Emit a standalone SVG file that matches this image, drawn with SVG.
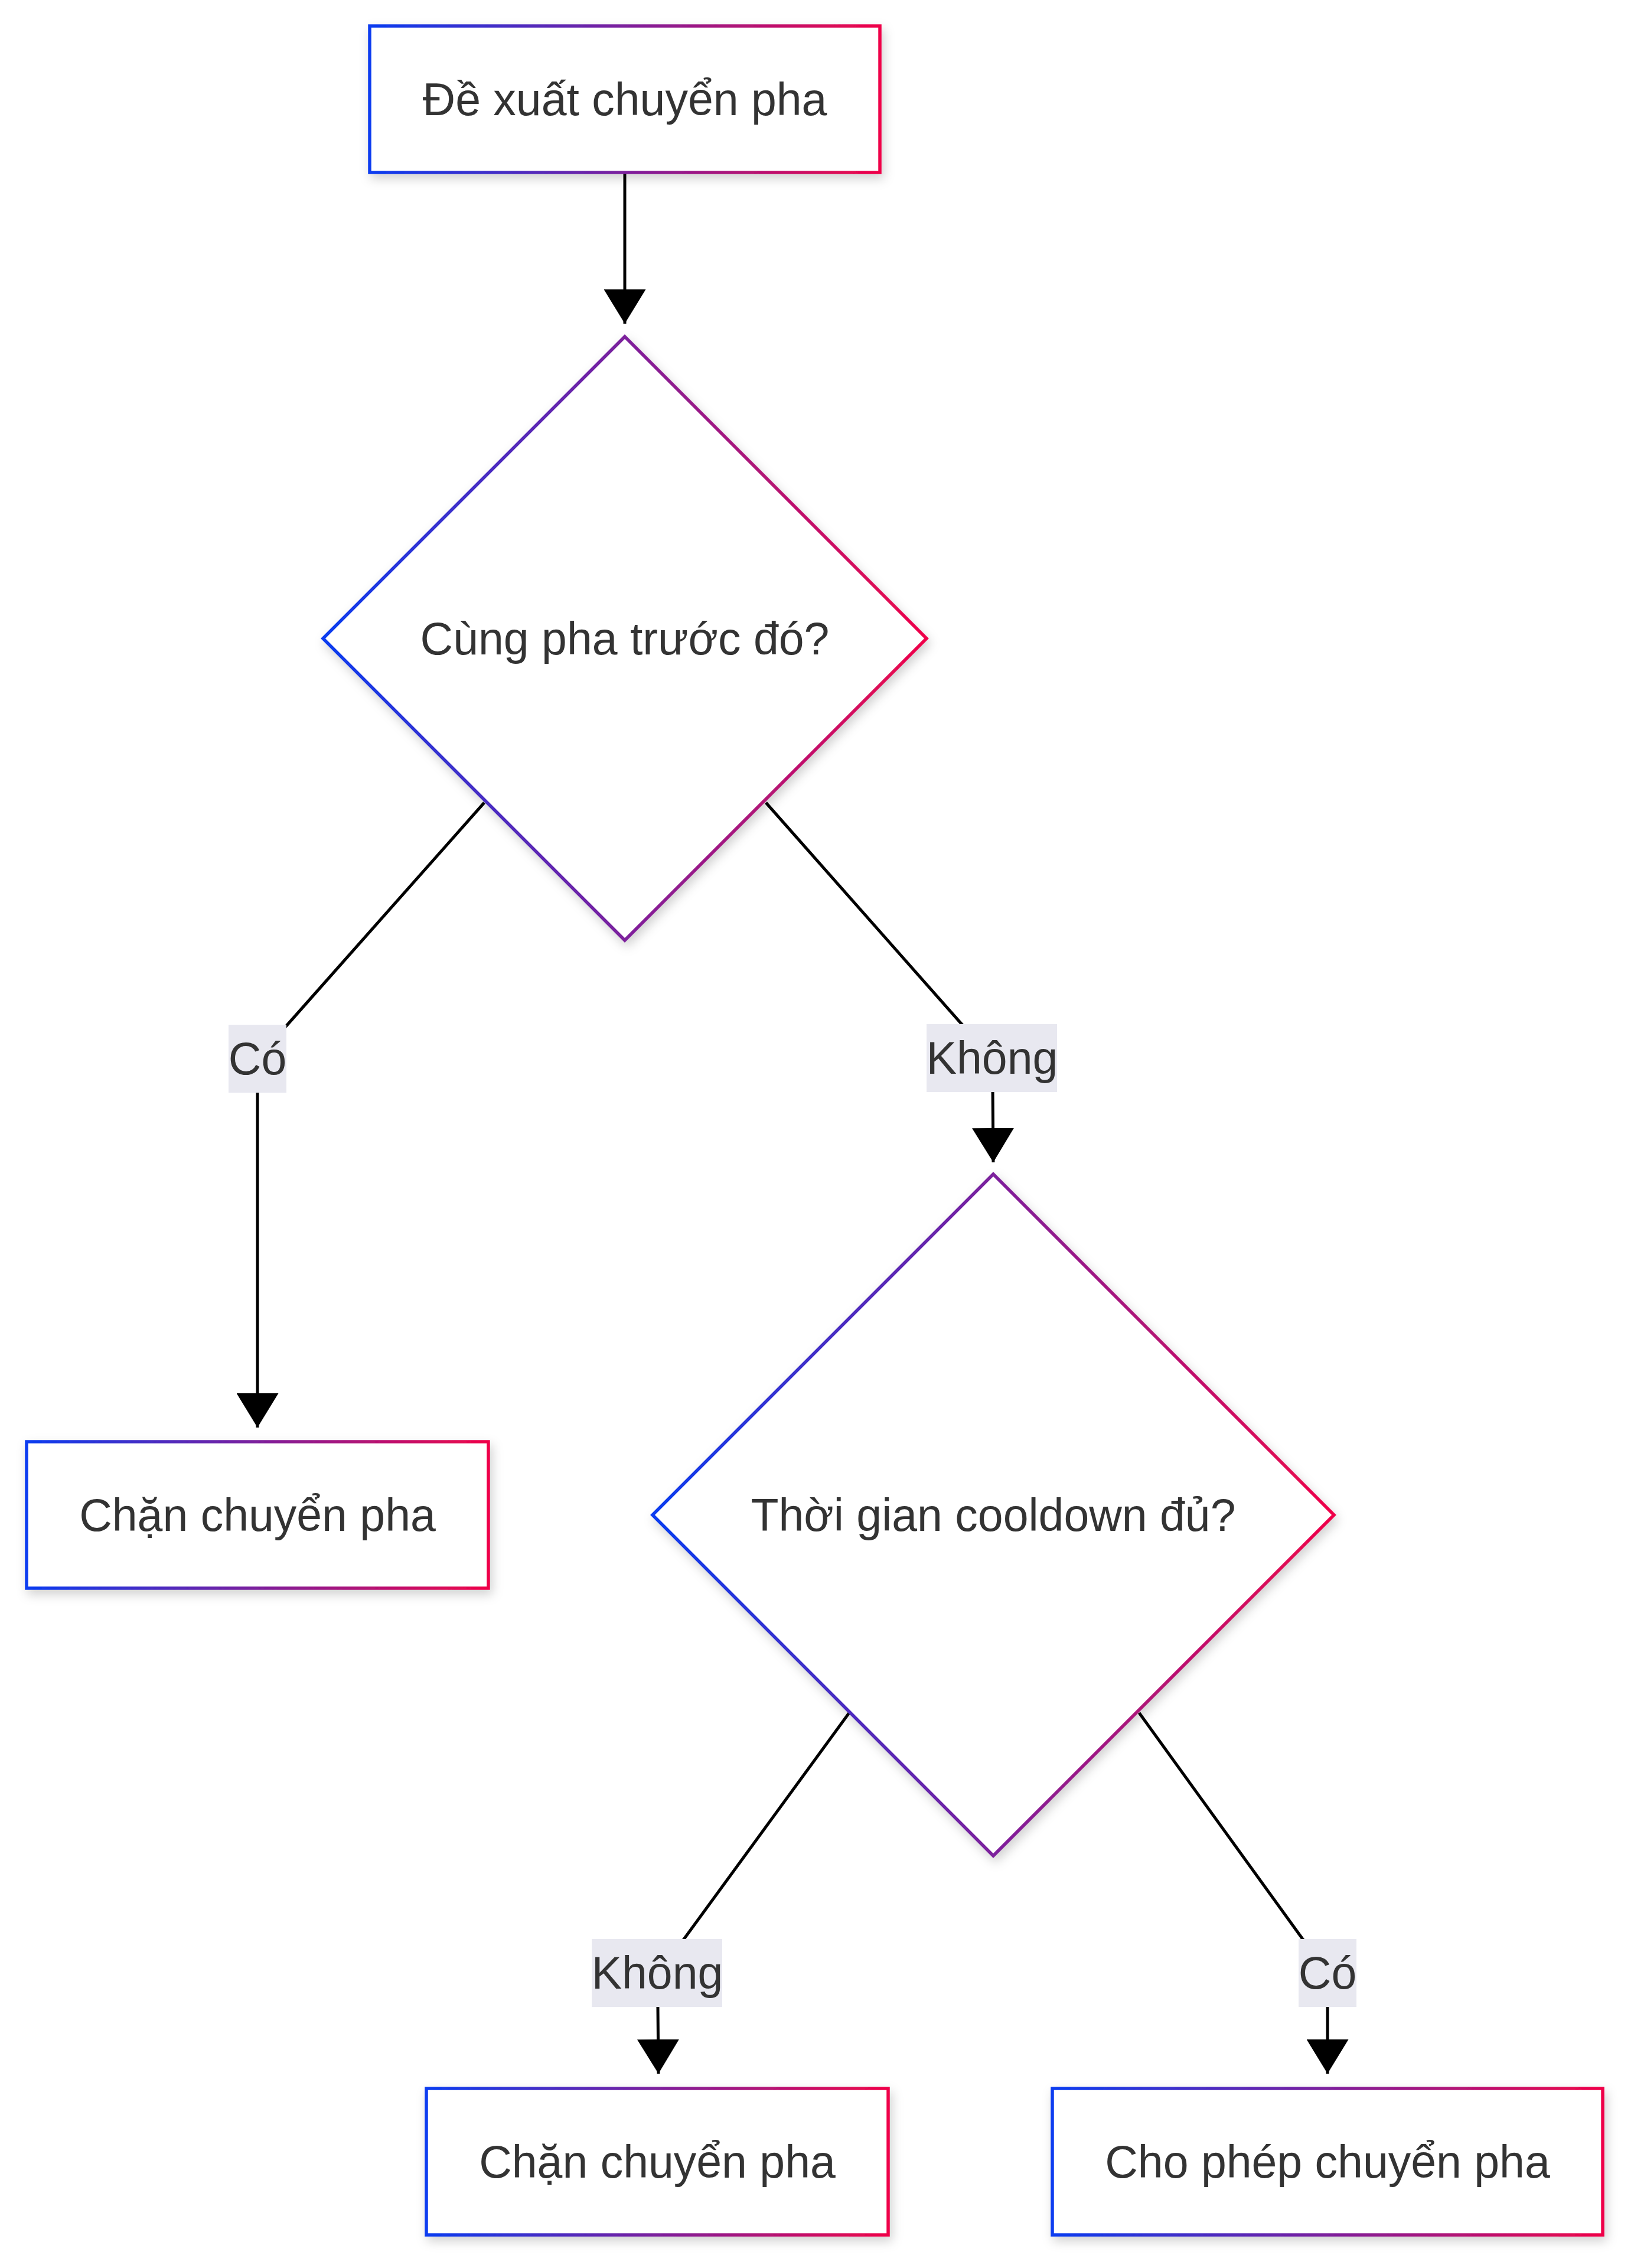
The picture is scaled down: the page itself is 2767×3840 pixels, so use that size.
<svg xmlns="http://www.w3.org/2000/svg" width="2767" height="3840" viewBox="0 0 2767 3840">
<defs>
<linearGradient id="grad" x1="0" y1="0" x2="1" y2="0">
<stop offset="0" stop-color="#0a3cf0"/>
<stop offset="1" stop-color="#ef0449"/>
</linearGradient>
<filter id="shadow" x="-10%" y="-10%" width="120%" height="125%">
<feDropShadow dx="4" dy="8" stdDeviation="9" flood-color="#000" flood-opacity="0.18"/>
</filter>
<marker id="arrow" markerUnits="userSpaceOnUse" viewBox="0 0 58 71" markerWidth="58" markerHeight="71" refX="58" refY="35.5" orient="auto">
<path d="M0,0 L58,35.5 L0,71 z" fill="#000"/>
</marker>
</defs>
<style>
.node rect, .node polygon { fill: #ffffff; stroke: url(#grad); stroke-width: 5.5; filter: url(#shadow); }
.node text, .label text { font-family: "Liberation Sans", Arial, sans-serif; font-size: 77px; fill: #333333; text-anchor: middle; dominant-baseline: central; }
.edge { fill: none; stroke: #000000; stroke-width: 5; }
.label rect { fill: #e8e8f0; }
</style>
<rect x="0" y="0" width="2767" height="3840" fill="#ffffff"/>
<g id="connectors">
<path class="edge" d="M1058,292 L1058,548" marker-end="url(#arrow)"/>
<path class="edge" d="M820,1359 L468,1756 Q436,1792 436,1840 L436,2417" marker-end="url(#arrow)"/>
<path class="edge" d="M1297,1359 L1648,1756 Q1681,1792 1681,1840 L1682,1968" marker-end="url(#arrow)"/>
<path class="edge" d="M1438,2900 L1148,3297 Q1113,3345 1114,3400 L1115,3511" marker-end="url(#arrow)"/>
<path class="edge" d="M1929,2900 L2216,3297 Q2248,3345 2248,3400 L2248,3511" marker-end="url(#arrow)"/>
</g>
<g id="edge-labels">
<g class="label" id="label-co-1"><rect x="387" y="1735" width="98" height="115"/><text x="436" y="1792">Có</text></g>
<g class="label" id="label-khong-1"><rect x="1569" y="1734" width="221" height="115"/><text x="1680" y="1791">Không</text></g>
<g class="label" id="label-khong-2"><rect x="1002" y="3283" width="221" height="115"/><text x="1113" y="3340">Không</text></g>
<g class="label" id="label-co-2"><rect x="2199" y="3283" width="98" height="115"/><text x="2248" y="3340">Có</text></g>
</g>
<g class="node" id="node-propose"><rect x="626" y="44" width="864" height="248"/><text x="1058" y="168">Đề xuất chuyển pha</text></g>
<g class="node" id="node-samephase"><polygon points="1058,570 1569,1081 1058,1592 547,1081"/><text x="1058" y="1081">Cùng pha trước đó?</text></g>
<g class="node" id="node-block1"><rect x="45" y="2441" width="782" height="248"/><text x="436" y="2565">Chặn chuyển pha</text></g>
<g class="node" id="node-cooldown"><polygon points="1682,1988 2259,2565 1682,3142 1105,2565"/><text x="1682" y="2565">Thời gian cooldown đủ?</text></g>
<g class="node" id="node-block2"><rect x="722" y="3536" width="782" height="248"/><text x="1113" y="3660">Chặn chuyển pha</text></g>
<g class="node" id="node-allow"><rect x="1782" y="3536" width="932" height="248"/><text x="2248" y="3660">Cho phép chuyển pha</text></g>
</svg>
